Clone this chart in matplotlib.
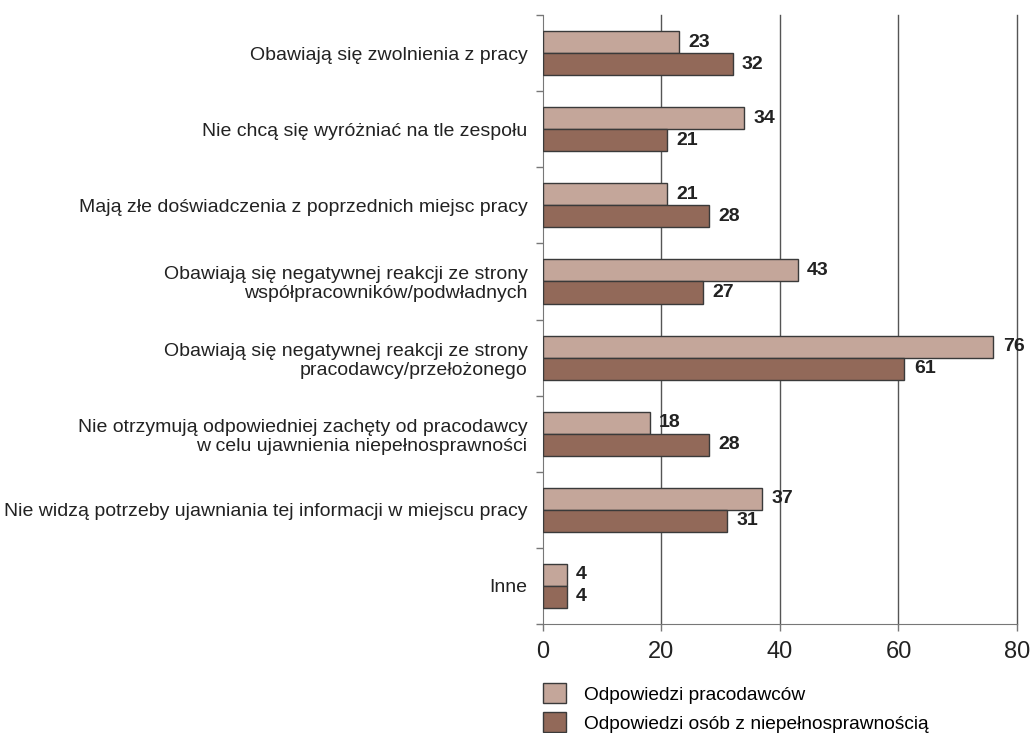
import numpy as np
import matplotlib.pyplot as plt
from matplotlib.patches import Patch

# data, top to bottom
categories = [
    'Obawiają się zwolnienia z pracy',
    'Nie chcą się wyróżniać na tle zespołu',
    'Mają złe doświadczenia z poprzednich miejsc pracy',
    'Obawiają się negatywnej reakcji ze strony\nwspółpracowników/podwładnych',
    'Obawiają się negatywnej reakcji ze strony\npracodawcy/przełożonego',
    'Nie otrzymują odpowiedniej zachęty od pracodawcy\nw celu ujawnienia niepełnosprawności',
    'Nie widzą potrzeby ujawniania tej informacji w miejscu pracy',
    'Inne',
]
employers = [23, 34, 21, 43, 76, 18, 37, 4]
disabled = [32, 21, 28, 27, 61, 28, 31, 4]
series_names = ['Odpowiedzi pracodawców', 'Odpowiedzi osób z niepełnosprawnością']
x_ticks = [0, 20, 40, 60, 80]

light = '#c4a69a'
dark = '#926959'
edge = '#3a3a3a'

plt.rcParams['font.family'] = ['Liberation Sans', 'DejaVu Sans']

fig = plt.figure(figsize=(10.34, 7.33), dpi=100)
ax = fig.add_axes([0.525, 0.1487, 0.4586, 0.8308])

y = np.arange(len(categories))
h = 0.29
ax.barh(y - h / 2, employers, height=h, color=light, edgecolor=edge, linewidth=1, zorder=3)
ax.barh(y + h / 2, disabled, height=h, color=dark, edgecolor=edge, linewidth=1, zorder=3)

# value labels
for yi, v in zip(y, employers):
    ax.text(v + 1.6, yi - h / 2, str(v), va='center', ha='left', fontsize=14,
            fontweight='bold', color='#222222')
for yi, v in zip(y, disabled):
    ax.text(v + 1.6, yi + h / 2, str(v), va='center', ha='left', fontsize=14,
            fontweight='bold', color='#222222')

ax.set_xlim(0, 80)
ax.set_ylim(len(categories) - 0.5, -0.5)

# vertical gridlines
for t in x_ticks[1:]:
    ax.axvline(t, color='#555555', linewidth=1, zorder=1, clip_on=False)

ax.set_xticks(x_ticks)
ax.tick_params(axis='x', direction='out', length=5, width=1, color='#777777',
               labelsize=17, pad=7, labelcolor='#222222')

ax.set_yticks(y)
ax.set_yticklabels(categories, fontsize=14, color='#222222', linespacing=1.15)
ax.tick_params(axis='y', which='major', length=0, pad=11)
ax.set_yticks(np.arange(-0.5, len(categories) + 0.5, 1), minor=True)
ax.tick_params(axis='y', which='minor', direction='out', length=5, width=1, color='#777777')

for s in ['top', 'right']:
    ax.spines[s].set_visible(False)
ax.spines['left'].set_color('#777777')
ax.spines['bottom'].set_color('#777777')

handles = [Patch(facecolor=light, edgecolor=edge, linewidth=1),
           Patch(facecolor=dark, edgecolor=edge, linewidth=1)]
fig.legend(handles, series_names, loc='upper left', bbox_to_anchor=(0.518, 0.078),
           frameon=False, fontsize=13.8, handlelength=1.2, handleheight=1.2,
           handletextpad=0.9, labelspacing=0.45, borderaxespad=0)

fig.savefig('out.png', dpi=100)
